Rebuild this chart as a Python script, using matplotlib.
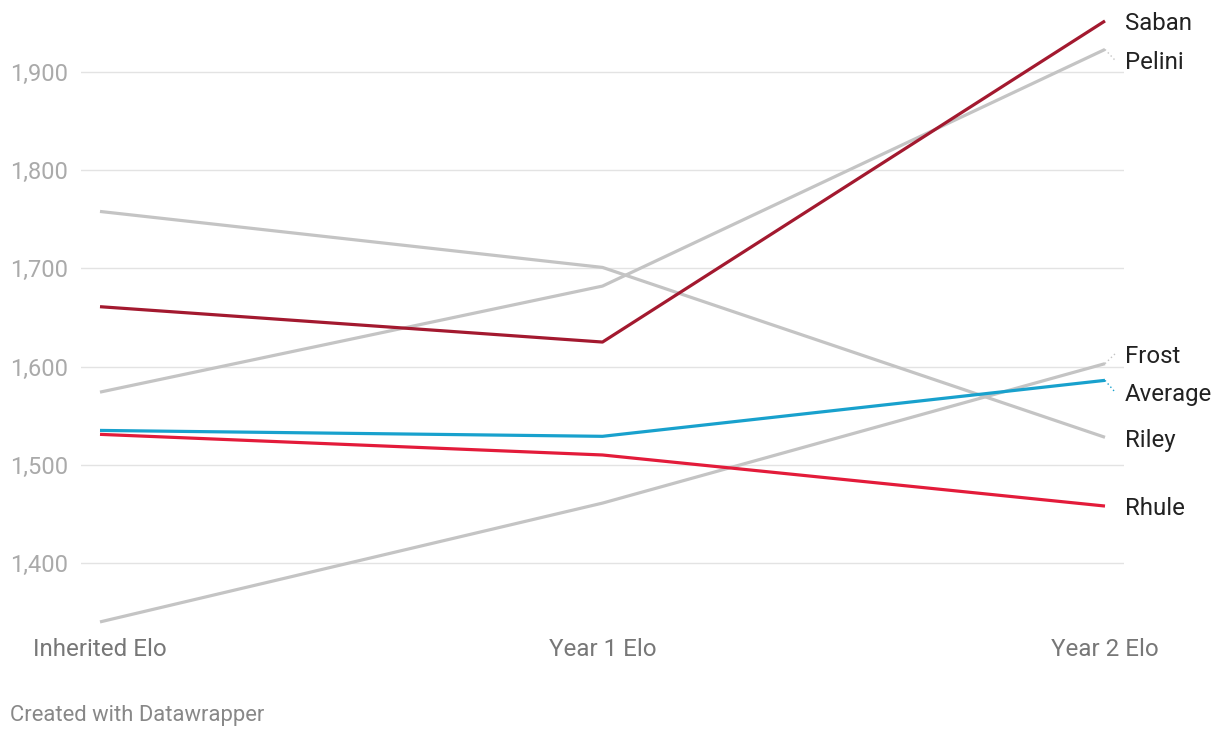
import matplotlib
matplotlib.use("Agg")
import matplotlib.pyplot as plt

plt.rcParams['font.family'] = ['Roboto', 'DejaVu Sans']

stages = ["Inherited Elo", "Year 1 Elo", "Year 2 Elo"]
coaches = ["Saban", "Pelini", "Riley", "Frost", "Average", "Rhule"]
saban = [1661, 1625, 1952]
pelini = [1574, 1682, 1923]
riley = [1758, 1701, 1528]
frost = [1340, 1461, 1603]
average = [1535, 1529, 1586]
rhule = [1531, 1510, 1458]
# where the end labels sit (some nudged apart)
label_y = [1952, 1912, 1528, 1613, 1574, 1458]
yticks = [1400, 1500, 1600, 1700, 1800, 1900]

series = [saban, pelini, riley, frost, average, rhule]
colors = ["#a3192f", "#c4c4c4", "#c4c4c4", "#c4c4c4", "#18a1cd", "#e31b3a"]
# greys go in the back
order = [1, 2, 3, 4, 5, 0]

fig = plt.figure(figsize=(12.2, 7.38), dpi=100)
ax = fig.add_axes([81 / 1220, 1 - 630 / 738, (1124 - 81) / 1220, 620 / 738])

x = list(range(len(stages)))
for i in order:
    ax.plot(x, series[i], color=colors[i], lw=2.3, solid_capstyle='butt', zorder=3)

for name, vals, ly, c in zip(coaches, series, label_y, colors):
    if abs(ly - vals[-1]) > 2:
        ax.plot([2, 2.02], [vals[-1], ly], color=c, lw=1, ls=(0, (1, 2)), zorder=2)
    ax.annotate(name, (2.039, ly), xytext=(0, -2), textcoords='offset points',
                fontsize=17.3, color="#222222", va='center', ha='left',
                annotation_clip=False)

ax.set_xlim(-19 / 502.5, 2 + 19 / 502.5)
ax.set_ylim(1400 - 67 / 0.982, 1900 + 62 / 0.982)
ax.set_yticks(yticks)
ax.set_yticklabels([f"{v:,}" for v in yticks], ha='left')
ax.set_xticks(x)
ax.set_xticklabels(stages)
ax.tick_params(axis='y', length=0, pad=51, labelsize=17, labelcolor="#aaaaaa")
ax.tick_params(axis='x', length=0, pad=6, labelsize=17.4, labelcolor="#777777")
ax.grid(axis='y', color="#e3e3e3", lw=1)
ax.set_axisbelow(True)
for s in ax.spines.values():
    s.set_visible(False)

fig.text(10 / 1220, 1 - 715 / 738, "Created with Datawrapper", fontsize=15.8,
         color="#888888", va='center', ha='left')

fig.savefig("out.png", dpi=100)
